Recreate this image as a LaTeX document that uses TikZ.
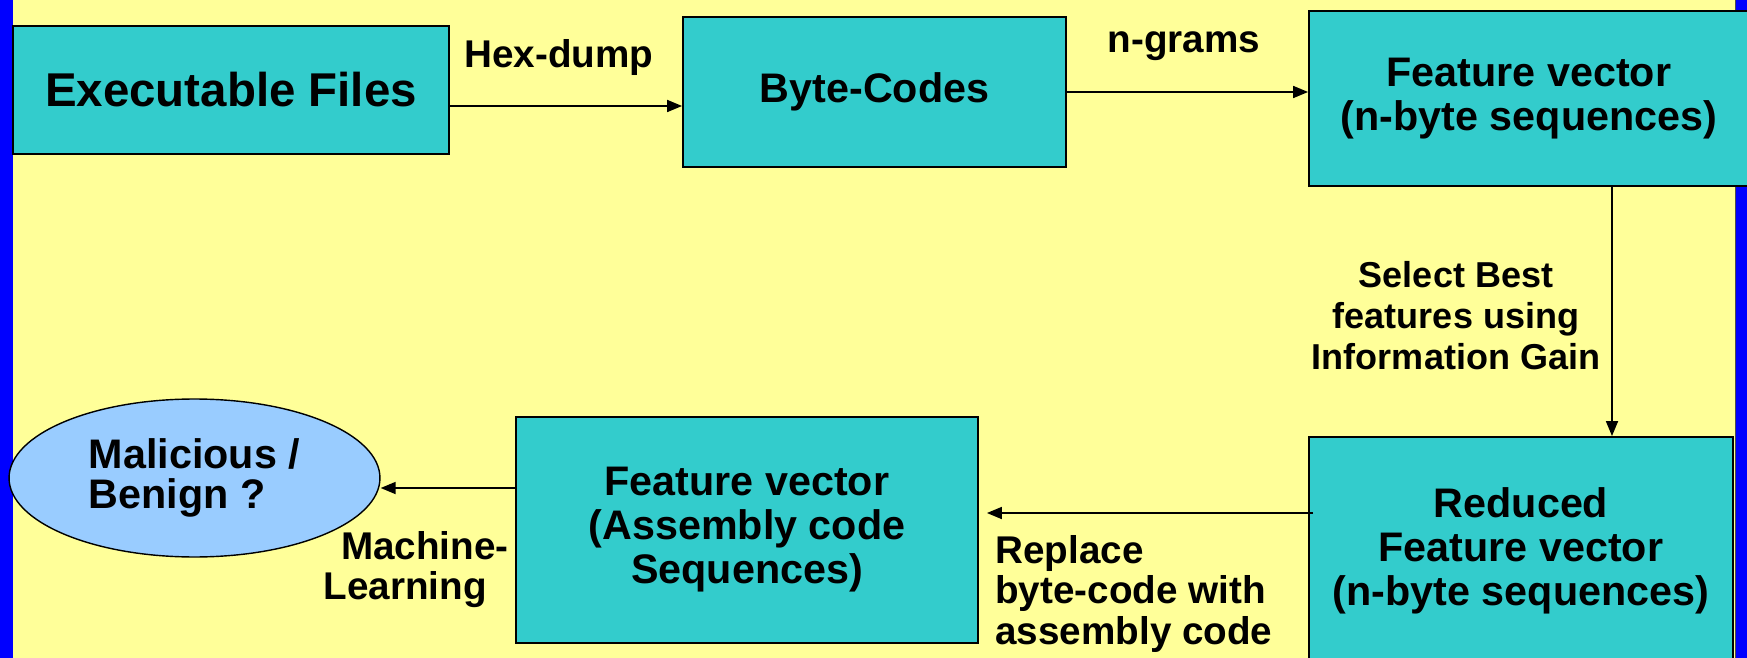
\documentclass[tikz,border=0pt]{standalone}
\usepackage{fontspec}
\setmainfont{Liberation Sans}
\usetikzlibrary{arrows.meta,shapes.geometric}

\definecolor{bgyellow}{HTML}{FFFF99}
\definecolor{barblue}{HTML}{0000FF}
\definecolor{boxcyan}{HTML}{33CCCC}
\definecolor{ovalblue}{HTML}{99CCFF}

\begin{document}
\begin{tikzpicture}[x=0.02cm,y=-0.02cm,
    box/.style={draw=black,line width=1.1pt,fill=boxcyan,inner sep=0pt,align=center,
        font=\fontsize{23.5}{25}\selectfont\bfseries},
    lbl/.style={inner sep=0pt,font=\fontsize{22}{22.8}\selectfont\bfseries},
    arr/.style={line width=1pt,-{Triangle[length=0.3cm,width=0.24cm]}}]
        \useasboundingbox (0,0) rectangle (1747,658);
        \fill[bgyellow] (0,0) rectangle (1747,658);
        \fill[barblue] (0,0) rectangle (13,658);
        \fill[barblue] (1735,0) rectangle (1747,658);
        \draw[thin,black!70] (1735,0)--(1735,658);

        % top row
        \node[box,minimum width=8.72cm,minimum height=2.56cm,
              font=\fontsize{27}{29}\selectfont\bfseries] (exe) at (231,90) {Executable Files};
        \node[box,minimum width=7.66cm,minimum height=3cm] (byte) at (874.5,92) {Byte-Codes};
        \node[box,minimum width=8.8cm,minimum height=3.5cm] (feat) at (1529,98.5) {Feature vector\\(n-byte sequences)};

        % bottom row
        \node[box,minimum width=8.48cm,minimum height=4.56cm] (red) at (1521,551) {Reduced\\Feature vector\\(n-byte sequences)};
        \node[box,minimum width=9.24cm,minimum height=4.52cm] (asm) at (747,530) {Feature vector\\(Assembly code\\Sequences)};
        \node[ellipse,draw=black,line width=0.8pt,fill=ovalblue,inner sep=0pt,
              minimum width=7.42cm,minimum height=3.16cm,align=left,
              font=\fontsize{23.5}{22.8}\selectfont\bfseries] (mal) at (194.5,478) {Malicious /\\Benign ?};

        % connectors
        \draw[arr] ([yshift=-0.32cm]exe.east) -- ([yshift=-0.32cm]exe.east -| byte.west);
        \draw[arr] (byte.east) -- (byte.east -| feat.west);
        \draw[arr] ([xshift=1.66cm]feat.south) -- ([xshift=1.66cm]feat.south |- red.north);
        \draw[arr,shorten <=-0.1cm,shorten >=0.16cm] ([yshift=0.76cm]red.west) -- ([yshift=0.76cm]red.west -| asm.east);
        \draw[arr] ([yshift=0.84cm]asm.west) -- ([yshift=0.84cm]asm.west -| mal.east);

        % labels
        \node[lbl] (hex) at (559,58) {Hex-dump};
        \node[lbl] (ngr) at (1184,46) {n-grams};
        \node[lbl,align=center,font=\fontsize{20.5}{23.3}\selectfont\bfseries] (sel) at (1456,316) {Select Best\\features using\\Information Gain};
        \node[lbl,align=left,anchor=west] (rep) at (995,594) {Replace\\byte-code with\\assembly code};
        \node[lbl,align=right,anchor=east] (ml) at (509,570) {Machine-\\Learning\hspace*{0.44cm}};
\end{tikzpicture}
\end{document}
